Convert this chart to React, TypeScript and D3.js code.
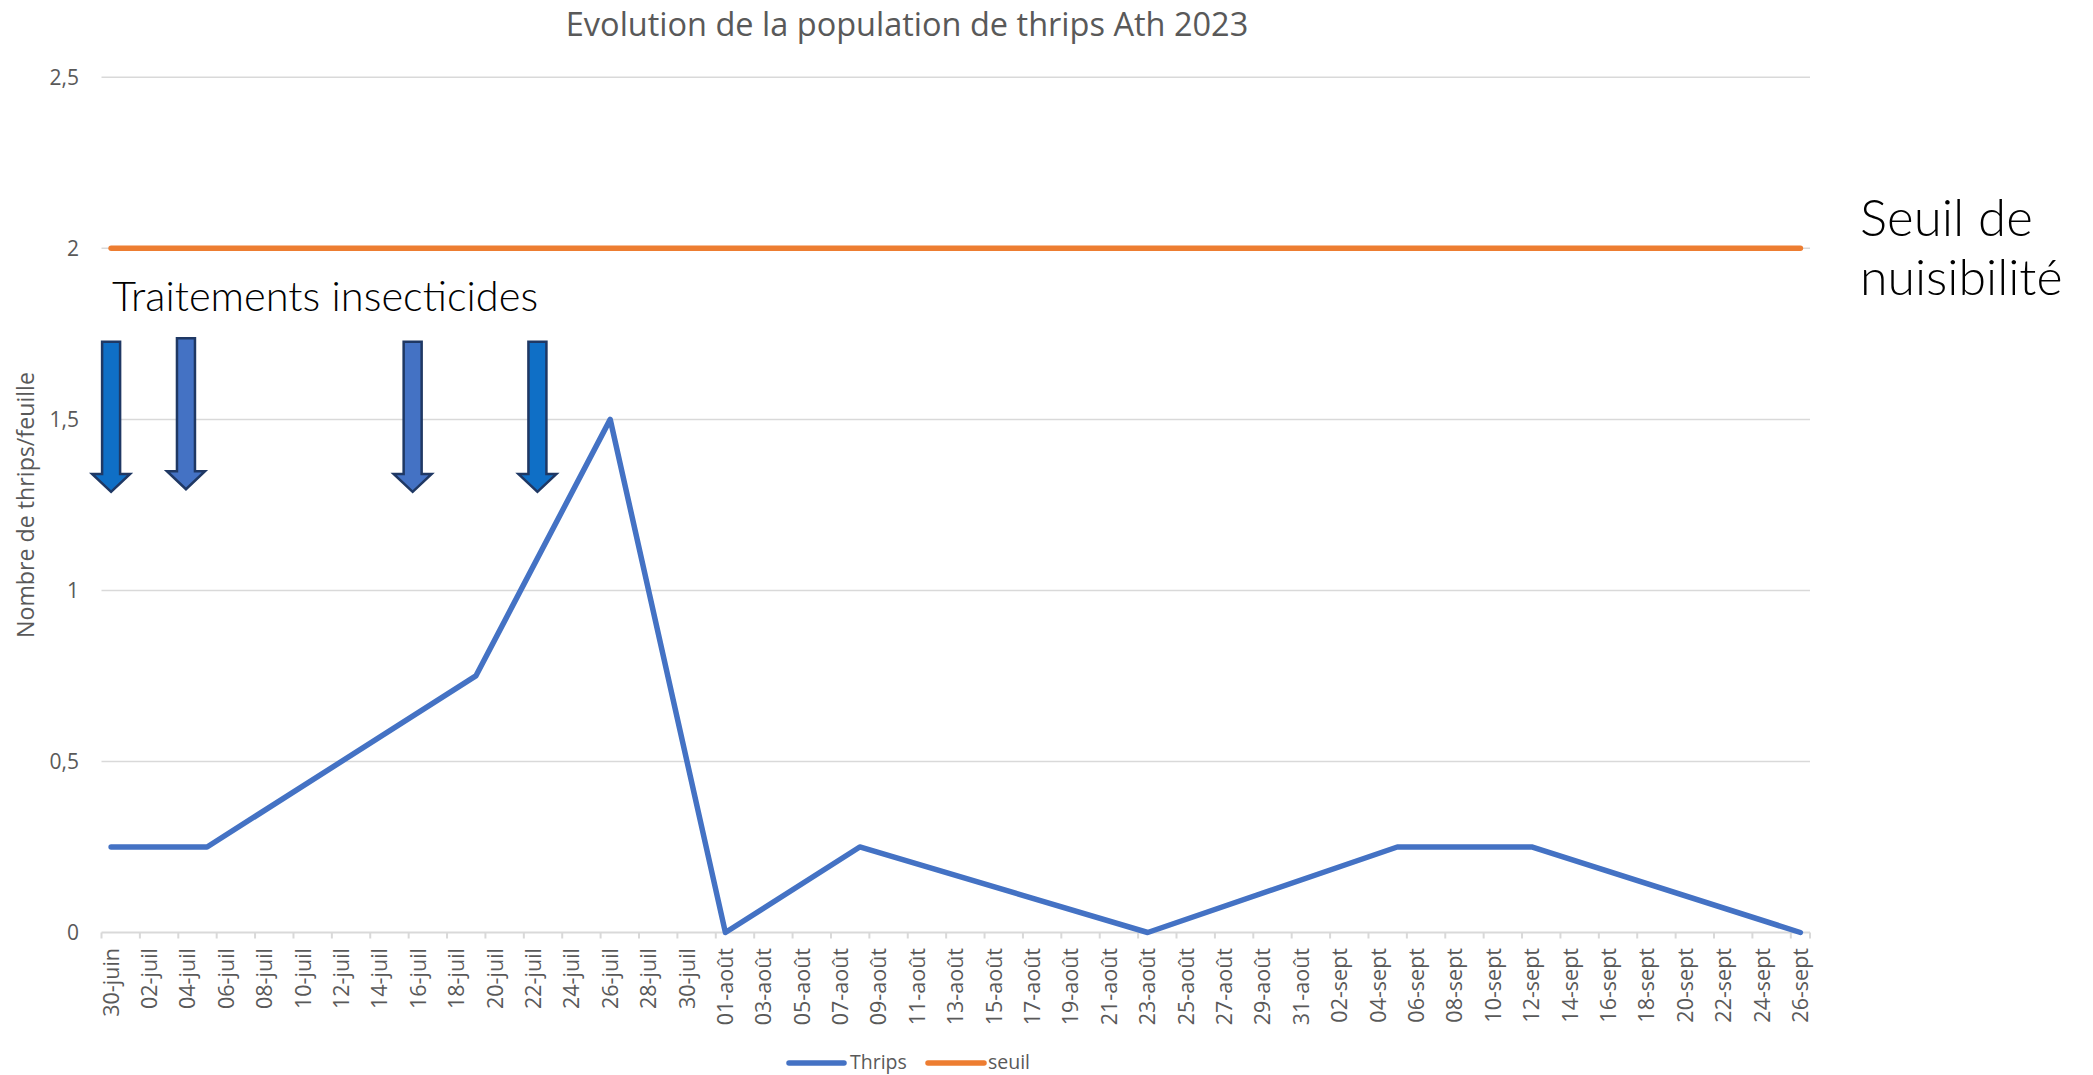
import React from "react";
import * as d3 from "d3";

const W = 2093;
const H = 1075;

const titleText = "Evolution de la population de thrips Ath 2023";
const yAxisTitle = "Nombre de thrips/feuille";

// Thrips series (observation dates and counts)
const thripsDates = ["2023-06-30", "2023-07-05", "2023-07-19", "2023-07-26", "2023-08-01", "2023-08-08", "2023-08-23", "2023-09-05", "2023-09-12", "2023-09-26"];
const thripsValues = [0.25, 0.25, 0.75, 1.5, 0, 0.25, 0, 0.25, 0.25, 0];

// Threshold series
const seuilDates = ["2023-06-30", "2023-09-26"];
const seuilValues = [2, 2];

// Y ticks
const yTicks = [0, 0.5, 1, 1.5, 2, 2.5];
const yTickLabels = ["0", "0,5", "1", "1,5", "2", "2,5"];

// X tick labels (every 2 days)
const xTickLabels = [
  "30-juin", "02-juil", "04-juil", "06-juil", "08-juil", "10-juil", "12-juil", "14-juil", "16-juil",
  "18-juil", "20-juil", "22-juil", "24-juil", "26-juil", "28-juil", "30-juil",
  "01-août", "03-août", "05-août", "07-août", "09-août", "11-août", "13-août", "15-août", "17-août",
  "19-août", "21-août", "23-août", "25-août", "27-août", "29-août", "31-août",
  "02-sept", "04-sept", "06-sept", "08-sept", "10-sept", "12-sept", "14-sept", "16-sept", "18-sept",
  "20-sept", "22-sept", "24-sept", "26-sept",
];

// Treatment arrows (annotation)
const arrowTimes = ["2023-06-30T12:00Z", "2023-07-04T09:36Z", "2023-07-16T05:00Z", "2023-07-22T17:00Z"];
const arrowTops = [1.727, 1.737, 1.727, 1.727];
const arrowTips = [1.288, 1.296, 1.288, 1.288];
const arrowColors = ["#0F6FC6", "#4472C4", "#4472C4", "#0F6FC6"];

const parse = (s: string) => new Date(s + "T00:00:00Z");

export default function App() {
  const start = parse("2023-06-30");
  const end = parse("2023-09-27");
  const x = d3.scaleUtc().domain([start, end]).range([101.5, 1810]);
  const y = d3.scaleLinear().domain([0, 2.5]).range([932.5, 77.3]);
  const center = (s: string) => x(d3.utcHour.offset(parse(s), 12));

  const line = d3
    .line<[number, number]>()
    .x((d) => d[0])
    .y((d) => d[1]);

  const thripsPts: [number, number][] = thripsDates.map((d, i) => [center(d), y(thripsValues[i])]);
  const seuilPts: [number, number][] = seuilDates.map((d, i) => [center(d), y(seuilValues[i])]);

  const tickDates = xTickLabels.map((_, i) => d3.utcDay.offset(start, 2 * i));
  const tickMarks = [...tickDates.map((d) => x(d)), x(end)];

  const font = "'Open Sans', 'Noto Sans', sans-serif";
  const annFont = "Lato, 'Noto Sans', sans-serif";
  const gray = "#595959";

  return (
    <svg width={W} height={H} style={{ position: "absolute", left: 0, top: 0, background: "#fff" }}>
      <rect x={0} y={0} width={W} height={H} fill="#fff" />
      <text x={907} y={36} textAnchor="middle" fontFamily={font} fontSize={32.5} fill={gray}>
        {titleText}
      </text>

      {/* gridlines */}
      {yTicks.filter((t) => t > 0).map((t) => (
        <line key={t} x1={x(start)} x2={x(end)} y1={y(t)} y2={y(t)} stroke="#D9D9D9" strokeWidth={1.5} />
      ))}
      {/* x axis */}
      <line x1={x(start)} x2={x(end)} y1={y(0)} y2={y(0)} stroke="#D9D9D9" strokeWidth={2} />
      {tickMarks.map((tx, i) => (
        <line key={i} x1={tx} x2={tx} y1={y(0)} y2={y(0) + 6} stroke="#D9D9D9" strokeWidth={2} />
      ))}

      {/* y labels */}
      {yTicks.map((t, i) => (
        <text key={t} x={79} y={y(t)} dy="0.35em" textAnchor="end" fontFamily={font} fontSize={21} fill={gray}>
          {yTickLabels[i]}
        </text>
      ))}

      {/* x labels */}
      {tickDates.map((d, i) => (
        <text
          key={i}
          transform={`translate(${x(d3.utcHour.offset(d, 12))},948) rotate(-90)`}
          dy="0.35em"
          textAnchor="end"
          fontFamily={font}
          fontSize={21.5}
          fill={gray}
        >
          {xTickLabels[i]}
        </text>
      ))}

      {/* y title */}
      <text transform="translate(26,505) rotate(-90)" dy="0.35em" textAnchor="middle" fontFamily={font} fontSize={23.2} fill={gray}>
        {yAxisTitle}
      </text>

      {/* series */}
      <path d={line(seuilPts) || ""} fill="none" stroke="#ED7D31" strokeWidth={5.5} strokeLinecap="round" strokeLinejoin="round" />
      <path d={line(thripsPts) || ""} fill="none" stroke="#4472C4" strokeWidth={5.5} strokeLinecap="round" strokeLinejoin="round" />

      {/* arrows */}
      {arrowTimes.map((t, i) => {
        const cx = x(new Date(t));
        const yt = y(arrowTops[i]);
        const yb = y(arrowTips[i]);
        const hb = yb - 18;
        const p = `M${cx - 9},${yt}L${cx + 9},${yt}L${cx + 9},${hb}L${cx + 19},${hb}L${cx},${yb}L${cx - 19},${hb}L${cx - 9},${hb}Z`;
        return <path key={i} d={p} fill={arrowColors[i]} stroke="#1F3864" strokeWidth={2.5} strokeLinejoin="miter" />;
      })}

      {/* annotations */}
      <text x={112} y={311} fontFamily={annFont} fontWeight={300} fontSize={41.6} fill="#000">
        Traitements insecticides
      </text>
      <text x={1860} y={236} fontFamily={annFont} fontWeight={300} fontSize={51} fill="#000">
        Seuil de
      </text>
      <text x={1860} y={295} fontFamily={annFont} fontWeight={300} fontSize={50} fill="#000">
        nuisibilité
      </text>

      {/* legend */}
      <line x1={789} x2={844} y1={1063} y2={1063} stroke="#4472C4" strokeWidth={5.5} strokeLinecap="round" />
      <text x={850} y={1063} dy="0.3em" fontFamily={font} fontSize={19.5} fill={gray}>
        Thrips
      </text>
      <line x1={928} x2={984} y1={1063} y2={1063} stroke="#ED7D31" strokeWidth={5.5} strokeLinecap="round" />
      <text x={988} y={1063} dy="0.3em" fontFamily={font} fontSize={19.5} fill={gray}>
        seuil
      </text>
    </svg>
  );
}
